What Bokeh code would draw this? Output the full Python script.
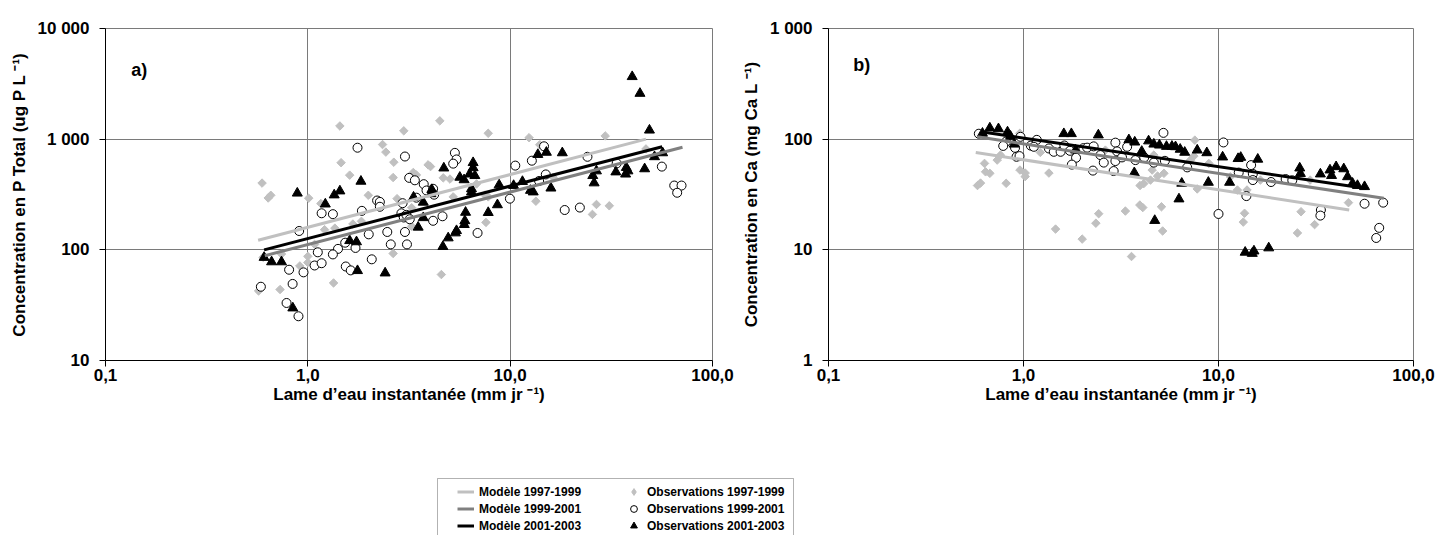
import math
from bokeh.plotting import figure
from bokeh.models import Range1d, FixedTicker, Legend, LegendItem, BoxAnnotation, Label
from bokeh.layouts import column, row
from bokeh.embed import file_html
from bokeh.resources import INLINE

# ---------------- data ----------------
x_ticks = [0.1, 1, 10, 100]
x_tick_labels = ["0,1", "1,0", "10,0", "100,0"]

ptot_ticks = [10, 100, 1000, 10000]
ptot_tick_labels = ["10", "100", "1 000", "10 000"]
ca_ticks = [1, 10, 100, 1000]
ca_tick_labels = ["1", "10", "100", "1 000"]

series_labels_model = ["Modèle 1997-1999", "Modèle 1999-2001", "Modèle 2001-2003"]
series_labels_obs = ["Observations 1997-1999", "Observations 1999-2001", "Observations 2001-2003"]

# a) Phosphore total
x_ptot_97 = [1.44, 2.98, 4.49, 7.79, 12.4, 29.5, 46.9, 14.0, 2.34, 2.43, 1.46, 2.66, 1.61, 2.64, 0.594,
             0.656, 0.637, 1.01, 1.16, 1.99, 2.76, 3.32, 3.44, 3.93, 4.04, 4.67, 5.04, 6.82, 5.23, 7.50,
             7.79, 16.3, 13.4, 26.7, 30.9, 25.5, 7.59, 3.26, 3.26, 1.67, 1.84, 1.21, 1.36, 1.08, 0.741,
             1.0, 0.913, 1.0, 2.64, 1.34, 0.729, 0.571, 4.57, 0.601]
y_ptot_97 = [1316, 1189, 1464, 1130, 1031, 1070, 816, 891, 894, 764, 613, 619, 473, 450, 401,
             311, 294, 293, 262, 311, 290, 500, 475, 586, 565, 447, 436, 394, 301, 313,
             301, 452, 275, 257, 250, 209, 177, 240, 163, 171, 181, 152, 157, 112, 91.6,
             87.3, 71.5, 76.7, 92.7, 50.2, 43.8, 42.5, 59.8, 85.5]

x_ptot_99 = [1.76, 3.02, 3.17, 2.20, 2.27, 2.27, 2.94, 1.17, 1.33, 1.85, 2.90, 2.98, 0.906, 2.0, 2.47,
             3.02, 2.57, 3.09, 1.53, 1.72, 1.12, 1.41, 1.33, 2.07, 1.08, 1.17, 1.54, 1.63, 0.808, 0.952,
             0.586, 0.841, 0.785, 0.899, 5.33, 5.43, 5.23, 3.38, 3.74, 3.86, 4.16, 4.21, 3.44, 3.07, 3.19,
             4.16, 4.63, 6.90, 10.6, 12.8, 14.7, 15.0, 13.9, 9.97, 18.6, 22.1, 24.1, 33.6, 56.2, 64.7,
             70.3, 66.9]
y_ptot_99 = [837, 697, 447, 279, 271, 245, 264, 214, 210, 225, 214, 196, 148, 138, 145,
             145, 112, 112, 116, 104, 95, 102, 90.9, 82.1, 72.2, 75.7, 70.7, 65.2, 66.1, 62.6,
             46.4, 49.2, 33.1, 25.1, 752, 656, 601, 425, 392, 344, 356, 315, 296, 207, 189,
             183, 201, 142, 577, 639, 862, 480, 419, 290, 229, 241, 693, 604, 565, 381,
             381, 328]

x_ptot_01 = [1.83, 0.887, 1.35, 1.44, 1.22, 1.61, 1.74, 0.608, 0.662, 0.741, 1.76, 2.41, 0.843, 40.1, 43.8,
             48.8, 4.70, 6.56, 6.56, 6.69, 6.30, 5.64, 5.92, 4.10, 4.06, 3.33, 3.72, 3.72, 3.51, 6.44,
             6.44, 8.82, 10.4, 11.5, 12.6, 13.0, 15.9, 8.65, 7.79, 6.02, 5.97, 5.93, 5.43, 5.36, 4.94,
             4.65, 13.7, 15.1, 18.1, 25.6, 26.7, 26.0, 33.3, 37.5, 38.2, 37.2, 46.2, 51.7, 56.7]
y_ptot_01 = [416, 325, 313, 340, 259, 121, 118, 85.3, 77.8, 77.8, 64.8, 61.7, 29.8, 3670, 2590,
             1206, 548, 613, 551, 468, 483, 452, 429, 350, 321, 299, 269, 195, 160, 356,
             333, 386, 381, 414, 344, 333, 361, 255, 217, 218, 183, 169, 149, 142, 128,
             107, 726, 760, 752, 468, 516, 402, 505, 554, 516, 483, 539, 693, 752]

x_ptot_model_97 = [0.568, 46.9]
y_ptot_model_97 = [122, 1000]
x_ptot_model_99 = [0.613, 71.1]
y_ptot_model_99 = [88.5, 844]
x_ptot_model_01 = [0.608, 56.4]
y_ptot_model_01 = [100, 855]

# b) Calcium
x_ca_97 = [0.581, 0.602, 0.631, 0.639, 0.672, 0.733, 0.762, 0.815, 0.959, 1.02, 1.02, 1.35, 1.22, 0.957, 1.46,
           2.0, 2.35, 2.43, 2.63, 3.33, 3.58, 3.96, 4.14, 3.95, 4.09, 5.10, 5.17, 4.48, 4.57, 4.87,
           5.25, 4.66, 7.56, 7.78, 7.18, 7.47, 8.92, 11.5, 12.5, 14.0, 13.6, 13.4, 16.4, 26.5, 25.4,
           31.1, 29.5, 46.4]
y_ca_97 = [38.1, 40.1, 60.4, 50.7, 49.1, 64.7, 71.8, 39.9, 52.6, 49.4, 45.9, 49.4, 75.9, 113, 15.4,
           12.5, 17.4, 21.2, 79.6, 22.4, 8.7, 38.1, 39.7, 25.4, 24.1, 24.5, 14.8, 42.7, 52.6, 46.4,
           49.1, 71.8, 98, 35.5, 64.7, 70.3, 60.4, 45.7, 34.7, 34.7, 21.4, 17.8, 42.7, 22.1, 14.2,
           16.9, 42.7, 26.7]

x_ca_99 = [0.590, 0.965, 0.813, 0.787, 0.905, 0.921, 0.954, 1.09, 1.17, 1.13, 1.35, 1.43, 1.55, 1.62, 1.73,
           1.86, 1.77, 2.03, 2.12, 2.29, 2.48, 2.58, 2.27, 2.90, 2.96, 3.02, 2.96, 3.20, 3.40, 3.75,
           4.16, 5.22, 4.66, 5.31, 6.91, 10.6, 12.7, 14.7, 15.0, 15.0, 18.6, 22.1, 23.9, 13.9, 10.0,
           33.5, 33.3, 56.1, 69.9, 66.7, 64.4]
y_ca_99 = [112, 105, 94.9, 86.9, 83.5, 69.3, 70.3, 87.4, 98.6, 85.3, 82.4, 76.9, 76.9, 87.7, 78.5,
           67.9, 58.9, 83, 83.8, 86.1, 71.8, 61.4, 52.0, 51.5, 93, 77.5, 63.4, 68.4, 85.3, 64.7,
           68.4, 114, 61.4, 63.7, 55.6, 93.4, 49.9, 58.3, 48.6, 42.7, 41.0, 43.6, 42.5, 30.6, 21.1,
           22.9, 20.4, 26.1, 26.7, 15.8, 12.8]

x_ca_01 = [0.616, 0.672, 0.744, 0.828, 0.858, 0.896, 1.61, 1.76, 2.42, 1.85, 3.47, 3.72, 4.38, 4.66, 4.98,
           5.41, 5.77, 6.02, 6.36, 6.71, 4.04, 3.70, 6.48, 6.27, 4.71, 7.78, 8.71, 8.87, 10.5, 12.6,
           13.0, 15.9, 11.4, 13.7, 14.9, 15.2, 18.1, 26.1, 26.3, 33.3, 37.3, 38.0, 40.1, 43.9, 45.9,
           48.7, 51.6, 56.1]
y_ca_01 = [113, 126, 124, 116, 106, 90.1, 112, 112, 109, 79.6, 98.6, 94, 96.3, 90.1, 88.3,
           85.9, 86.1, 85.3, 80.9, 76.0, 77.5, 49.7, 39.9, 28.8, 18.4, 79.6, 75.3, 40.7, 68.9, 66.7,
           68.4, 65.8, 40.7, 9.5, 9.27, 9.75, 10.4, 54.8, 48.9, 48.4, 52.6, 46.9, 56.3, 53.9, 45.7,
           39.9, 38.1, 37.2]

x_ca_model_97 = [0.569, 46.8]
y_ca_model_97 = [75.9, 22.9]
x_ca_model_99 = [0.579, 70.4]
y_ca_model_99 = [105, 29.2]
x_ca_model_01 = [0.616, 57.4]
y_ca_model_01 = [116, 35.9]

# ---------------- style ----------------
FONT = "Liberation Sans"
C97 = "#c0c0c0"
C99 = "#808080"
C01 = "#000000"
GRID = "#7a7a7a"


def make_plot(width, height, y_range, y_ticks, y_tick_labels, y_label, tag, tag_pos, borders,
              obs, models):
    left, right, top, bottom = borders
    p = figure(width=width, height=height, x_axis_type="log", y_axis_type="log",
               x_range=Range1d(0.1, 100), y_range=Range1d(*y_range),
               output_backend="svg", toolbar_location=None,
               min_border_left=left, min_border_right=right,
               min_border_top=top, min_border_bottom=bottom)
    p.background_fill_color = "white"
    p.border_fill_color = "white"
    p.outline_line_color = GRID
    p.outline_line_width = 1

    p.xaxis.ticker = FixedTicker(ticks=x_ticks)
    p.xaxis.major_label_overrides = dict(zip(x_ticks, x_tick_labels))
    p.yaxis.ticker = FixedTicker(ticks=y_ticks)
    p.yaxis.major_label_overrides = dict(zip(y_ticks, y_tick_labels))
    p.xgrid.ticker = FixedTicker(ticks=x_ticks)
    p.ygrid.ticker = FixedTicker(ticks=y_ticks)
    for g in (p.xgrid, p.ygrid):
        g.grid_line_color = GRID
        g.grid_line_width = 1

    for ax in (p.xaxis, p.yaxis):
        ax.axis_line_color = "black"
        ax.major_tick_line_color = "black"
        ax.major_tick_out = 6
        ax.major_tick_in = 0
        ax.minor_tick_out = 0
        ax.minor_tick_in = 0
        ax.major_label_text_font = FONT
        ax.major_label_text_font_style = "bold"
        ax.major_label_text_font_size = "17px"
        ax.major_label_text_color = "black"
        ax.axis_label_text_font = FONT
        ax.axis_label_text_font_style = "bold"
        ax.axis_label_text_font_size = "17px"
        ax.axis_label_text_color = "black"
    p.xaxis.major_label_standoff = 2
    p.yaxis.major_label_standoff = 10
    p.xaxis.axis_label_standoff = 1
    p.yaxis.axis_label_standoff = 6
    p.xaxis.axis_label = "Lame d\u2019eau instantanée (mm jr \u207b\u00b9)"
    p.yaxis.axis_label = y_label

    (x97, y97), (x99, y99), (x01, y01) = obs
    p.scatter(x97, y97, marker="square", angle=math.pi / 4, size=6,
              fill_color=C97, line_color=C97)
    p.scatter(x99, y99, marker="circle", size=9, fill_color="white", line_color="black", line_width=1)
    p.scatter(x01, y01, marker="triangle", size=10, fill_color="black", line_color="black")

    (mx97, my97), (mx99, my99), (mx01, my01) = models
    p.line(mx97, my97, line_color=C97, line_width=3)
    p.line(mx99, my99, line_color=C99, line_width=3)
    p.line(mx01, my01, line_color=C01, line_width=3)

    p.add_layout(Label(x=tag_pos[0], y=tag_pos[1], text=tag, text_font=FONT,
                       text_font_style="bold", text_font_size="18px",
                       text_baseline="middle", text_align="left", text_color="black"))
    return p


p1 = make_plot(738, 415, (10, 10000), ptot_ticks, ptot_tick_labels,
               "Concentration en P Total (ug P L \u207b\u00b9)", "a)", (0.134, 4250),
               (105, 26, 23, 53),
               [(x_ptot_97, y_ptot_97), (x_ptot_99, y_ptot_99), (x_ptot_01, y_ptot_01)],
               [(x_ptot_model_97, y_ptot_model_97), (x_ptot_model_99, y_ptot_model_99),
                (x_ptot_model_01, y_ptot_model_01)])

p2 = make_plot(701, 415, (1, 1000), ca_ticks, ca_tick_labels,
               "Concentration en Ca (mg Ca L \u207b\u00b9)", "b)", (0.134, 464),
               (90, 26, 28, 55),
               [(x_ca_97, y_ca_97), (x_ca_99, y_ca_99), (x_ca_01, y_ca_01)],
               [(x_ca_model_97, y_ca_model_97), (x_ca_model_99, y_ca_model_99),
                (x_ca_model_01, y_ca_model_01)])

# ---------------- legend strip ----------------
pl = figure(width=1439, height=120, x_range=Range1d(0, 1439), y_range=Range1d(0, 120),
            output_backend="svg", toolbar_location=None,
            x_axis_location=None, y_axis_location=None,
            min_border_left=0, min_border_right=0, min_border_top=0, min_border_bottom=0)
pl.grid.visible = False
pl.outline_line_color = None
pl.background_fill_color = "white"
pl.border_fill_color = "white"

# legend proxies: a single NaN point each, so nothing is drawn in the strip itself
nan = [float("nan")]
lr97 = pl.line(nan, nan, line_color=C97, line_width=3)
lr99 = pl.line(nan, nan, line_color=C99, line_width=3)
lr01 = pl.line(nan, nan, line_color=C01, line_width=3)
sr97 = pl.scatter(nan, nan, marker="diamond", size=9, fill_color=C97, line_color=C97)
sr99 = pl.scatter(nan, nan, marker="circle", size=7, fill_color="white", line_color="black")
sr01 = pl.scatter(nan, nan, marker="triangle", size=8, fill_color="black", line_color="black")

pl.add_layout(BoxAnnotation(left=437, right=793, top=57, bottom=-10,
                            fill_alpha=0, line_color="black", line_width=1))


def make_legend(items, loc):
    return Legend(items=items, location=loc, orientation="vertical",
                  padding=0, margin=0, spacing=0,
                  glyph_width=17, glyph_height=17, label_height=17, label_standoff=5,
                  border_line_alpha=0, background_fill_alpha=0,
                  label_text_font=FONT, label_text_font_style="bold",
                  label_text_font_size="12px", label_text_color="black")


leg1 = make_legend([LegendItem(label=series_labels_model[0], renderers=[lr97]),
                    LegendItem(label=series_labels_model[1], renderers=[lr99]),
                    LegendItem(label=series_labels_model[2], renderers=[lr01])], (457, 1))
leg2 = make_legend([LegendItem(label=series_labels_obs[0], renderers=[sr97]),
                    LegendItem(label=series_labels_obs[1], renderers=[sr99]),
                    LegendItem(label=series_labels_obs[2], renderers=[sr01])], (625, 1))
pl.add_layout(leg1)
pl.add_layout(leg2)

layout = column(row(p1, p2, spacing=0), pl, spacing=0)

open("out.html", "w").write(file_html(layout, INLINE))
